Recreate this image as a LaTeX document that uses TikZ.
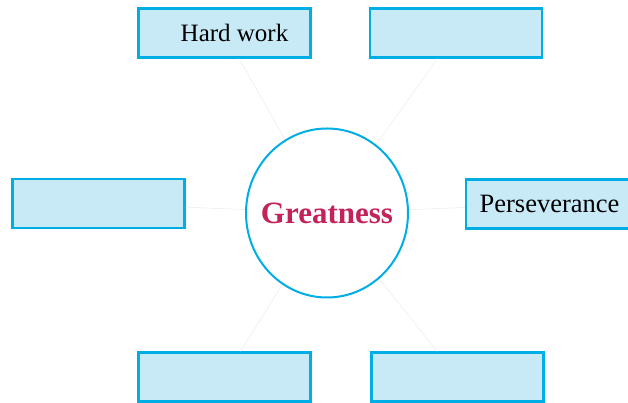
\documentclass[tikz,border=0pt]{standalone}
\usepackage{fontspec}
\setmainfont{Liberation Serif}
\usetikzlibrary{shapes.geometric}
\definecolor{rim}{RGB}{0,174,230}
\definecolor{boxfill}{RGB}{200,234,246}
\definecolor{crimson}{RGB}{196,34,90}

\begin{document}
\begin{tikzpicture}[x=1pt,y=1pt,
	answer/.style={draw=rim,fill=boxfill,line width=2.4pt,minimum width=172pt,minimum height=49pt,inner sep=0pt,font=\fontsize{25}{30}\selectfont},
	hub/.style={ellipse,draw=rim,fill=white,line width=2pt,minimum width=162pt,minimum height=169pt,inner sep=0pt},
	hubtext/.style={font=\fontsize{31}{34}\bfseries\selectfont,text=crimson},
	spoke/.style={draw=black!7,line width=0.6pt}]
	\useasboundingbox (0,0) rectangle (628,403);
	\clip (0,0) rectangle (628,403);
	\coordinate (mid) at (327,190);
	\node[answer] (hw) at (224.5,370) {\hspace*{20pt}Hard work};
	\node[answer] (tr) at (456,370) {};
	\node[answer] (lb) at (98.5,199.5) {};
	\node[answer,font=\fontsize{26.5}{30}\selectfont] (pv) at (552,199) {\hspace*{-5pt}Perseverance};
	\node[answer] (bl) at (224.5,26) {};
	\node[answer] (br) at (457.5,26) {};
	\path[spoke]
	(mid) edge (hw)
	      edge (tr)
	      edge (lb)
	      edge (pv)
	      edge (bl)
	      edge (br)
	;
	\node[hub,label={[hubtext]center:Greatness}] (great) at (mid) {};
\end{tikzpicture}
\end{document}
